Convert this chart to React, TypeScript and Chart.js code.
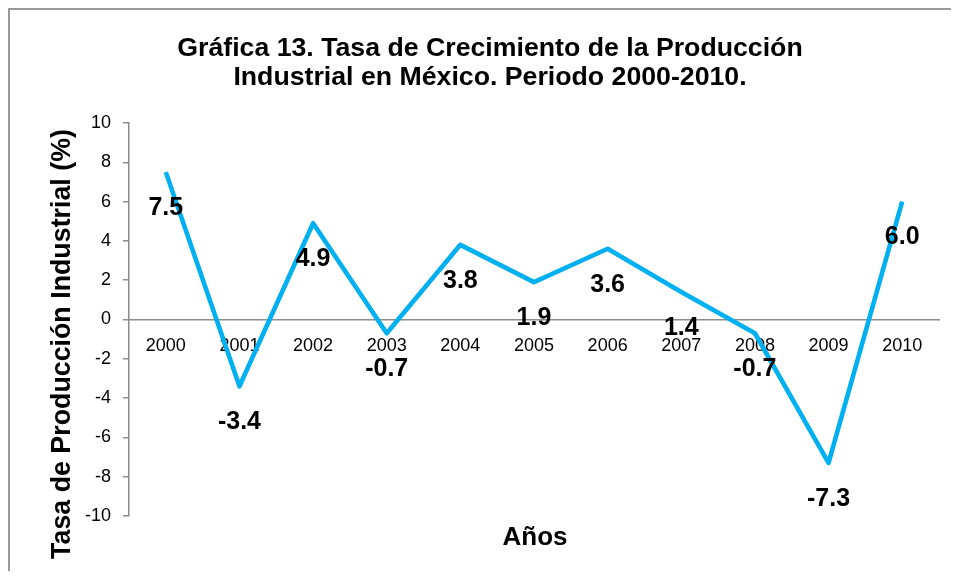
import React, { useEffect, useRef } from "react";
import { Chart, registerables } from "chart.js";

Chart.register(...registerables);

const years = ["2000", "2001", "2002", "2003", "2004", "2005", "2006", "2007", "2008", "2009", "2010"];
const growth = [7.5, -3.4, 4.9, -0.7, 3.8, 1.9, 3.6, 1.4, -0.7, -7.3, 6.0];
const titleLines = ["Gráfica 13. Tasa de Crecimiento de la Producción", "Industrial en México. Periodo 2000-2010."];
const yTitle = "Tasa de Producción Industrial (%)";
const xTitle = "Años";

const FONT = "'Liberation Sans', Arial, sans-serif";

const textPlugin = {
  id: "textPlugin",
  afterDraw(chart: any) {
    const ctx = chart.ctx;
    const meta = chart.getDatasetMeta(0);
    ctx.save();
    ctx.fillStyle = "#000";
    ctx.textAlign = "center";
    ctx.textBaseline = "middle";
    // data labels
    ctx.font = `bold 25px ${FONT}`;
    meta.data.forEach((pt: any, i: number) => {
      ctx.fillText(growth[i].toFixed(1), pt.x, pt.y + 36);
    });
    // title
    ctx.font = `bold 26.7px ${FONT}`;
    ctx.fillText(titleLines[0], 480, 39);
    ctx.fillText(titleLines[1], 480, 68);
    // x title
    ctx.font = `bold 26px ${FONT}`;
    ctx.fillText(xTitle, (chart.chartArea.left + chart.chartArea.right) / 2 + 1, 528);
    // y title
    ctx.font = `bold 26.8px ${FONT}`;
    ctx.translate(53, 334);
    ctx.rotate(-Math.PI / 2);
    ctx.fillText(yTitle, 0, 0);
    ctx.restore();
  },
};

export default function App() {
  const ref = useRef<HTMLCanvasElement>(null);
  useEffect(() => {
    if (!ref.current) return;
    const chart = new Chart(ref.current, {
      type: "line",
      data: {
        labels: years,
        datasets: [
          {
            data: growth,
            borderColor: "#00B0F0",
            borderWidth: 4.6,
            pointRadius: 0,
            tension: 0,
            borderJoinStyle: "round",
          },
        ],
      },
      options: {
        animation: false,
        responsive: false,
        maintainAspectRatio: false,
        layout: { padding: { top: 113, right: 20, bottom: 55, left: 0 } },
        plugins: { legend: { display: false }, tooltip: { enabled: false }, title: { display: false } },
        scales: {
          x: {
            type: "category",
            position: { y: 0 },
            offset: true,
            grid: { display: false, drawTicks: false },
            border: { display: true, color: "#8c8c8c", width: 1.5 },
            ticks: { color: "#000", font: { family: FONT, size: 18 }, padding: 16, maxRotation: 0, autoSkip: false },
          },
          y: {
            min: -10,
            max: 10,
            afterFit: (s: any) => {
              s.width = 119;
            },
            grid: { display: true, drawOnChartArea: false, drawTicks: true, tickLength: 6, color: "#8c8c8c", lineWidth: 1.5 },
            border: { display: true, color: "#8c8c8c", width: 1.5 },
            ticks: { stepSize: 2, color: "#000", font: { family: FONT, size: 18 }, padding: 12 },
          },
        },
      },
      plugins: [textPlugin],
    });
    return () => chart.destroy();
  }, []);
  return (
    <div
      style={{
        width: 949,
        height: 561,
        borderTop: "2px solid #9a9a9a",
        borderLeft: "2px solid #9a9a9a",
        background: "#fff",
        overflow: "hidden",
      }}
    >
      <canvas ref={ref} width={949} height={561} style={{ display: "block", width: 949, height: 561 }} />
    </div>
  );
}
